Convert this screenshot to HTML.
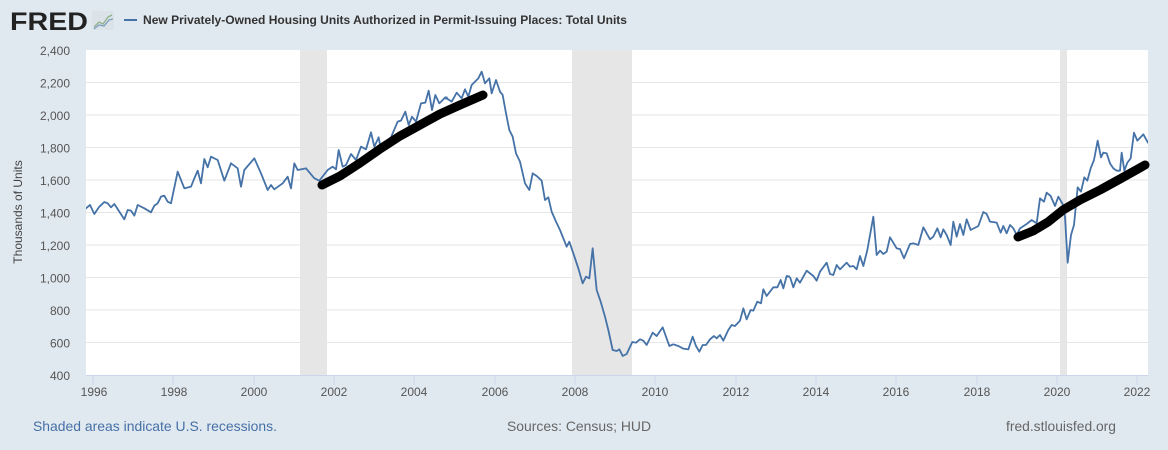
<!DOCTYPE html>
<html><head><meta charset="utf-8"><style>
html,body{margin:0;padding:0;background:#e1e9f0;}
svg{display:block;font-family:"Liberation Sans",Arial,sans-serif;}
</style></head><body>
<svg width="1168" height="450" viewBox="0 0 1168 450" xmlns="http://www.w3.org/2000/svg">
<rect width="1168" height="450" fill="#e1e9f0"/>
<!-- logo -->
<text x="10" y="30" font-size="25" font-weight="bold" fill="#222" textLength="78" lengthAdjust="spacingAndGlyphs">FRED</text>
<rect x="92" y="11" width="22" height="19" fill="#dbe3e8"/>
<polyline points="94,27 99,22 103,24 108,17 112,15" fill="none" stroke="#8fb08a" stroke-width="1.3"/>
<polyline points="94,29 99,25 104,26 109,20 113,19" fill="none" stroke="#7d9fbf" stroke-width="1.3"/>
<line x1="124" y1="20" x2="137" y2="20" stroke="#4572a7" stroke-width="2"/>
<text x="143" y="24" font-size="12" font-weight="bold" fill="#333" textLength="484" lengthAdjust="spacingAndGlyphs">New Privately-Owned Housing Units Authorized in Permit-Issuing Places: Total Units</text>
<!-- plot -->
<rect x="86" y="50" width="1062" height="325" fill="#fff"/>
<rect x="300" y="50" width="27" height="325" fill="#e6e6e6"/>
<rect x="572" y="50" width="60" height="325" fill="#e6e6e6"/>
<rect x="1060" y="50" width="7" height="325" fill="#e6e6e6"/>
<g stroke="#e6e6e6" stroke-width="1">
<line x1="86" y1="82.5" x2="1148" y2="82.5"/><line x1="86" y1="115" x2="1148" y2="115"/>
<line x1="86" y1="147.5" x2="1148" y2="147.5"/><line x1="86" y1="180" x2="1148" y2="180"/>
<line x1="86" y1="212.5" x2="1148" y2="212.5"/><line x1="86" y1="245" x2="1148" y2="245"/>
<line x1="86" y1="277.5" x2="1148" y2="277.5"/><line x1="86" y1="310" x2="1148" y2="310"/>
<line x1="86" y1="342.5" x2="1148" y2="342.5"/>
</g>
<line x1="86" y1="375.5" x2="1148" y2="375.5" stroke="#ccd6eb"/>
<g stroke="#ccd6eb">
<line x1="93" y1="375" x2="93" y2="385"/><line x1="173" y1="375" x2="173" y2="385"/><line x1="254" y1="375" x2="254" y2="385"/><line x1="334" y1="375" x2="334" y2="385"/><line x1="414" y1="375" x2="414" y2="385"/><line x1="495" y1="375" x2="495" y2="385"/><line x1="575" y1="375" x2="575" y2="385"/><line x1="655" y1="375" x2="655" y2="385"/><line x1="736" y1="375" x2="736" y2="385"/><line x1="816" y1="375" x2="816" y2="385"/><line x1="896" y1="375" x2="896" y2="385"/><line x1="977" y1="375" x2="977" y2="385"/><line x1="1057" y1="375" x2="1057" y2="385"/><line x1="1137" y1="375" x2="1137" y2="385"/>
</g>
<g font-size="12" fill="#555" text-anchor="end">
<text x="70" y="55">2,400</text><text x="70" y="87.5">2,200</text><text x="70" y="120">2,000</text><text x="70" y="152.5">1,800</text><text x="70" y="185">1,600</text><text x="70" y="217.5">1,400</text><text x="70" y="250">1,200</text><text x="70" y="282.5">1,000</text><text x="70" y="315">800</text><text x="70" y="347.5">600</text><text x="70" y="380">400</text>
</g>
<g font-size="12" fill="#555" text-anchor="middle">
<text x="94" y="396">1996</text><text x="174" y="396">1998</text><text x="254" y="396">2000</text><text x="334" y="396">2002</text><text x="414" y="396">2004</text><text x="495" y="396">2006</text><text x="575" y="396">2008</text><text x="655" y="396">2010</text><text x="736" y="396">2012</text><text x="816" y="396">2014</text><text x="896" y="396">2016</text><text x="977" y="396">2018</text><text x="1057" y="396">2020</text><text x="1137" y="396">2022</text>
</g>
<text transform="translate(22,212) rotate(-90)" font-size="12" fill="#444" text-anchor="middle">Thousands of Units</text>
<clipPath id="c"><rect x="86" y="48" width="1062" height="328"/></clipPath>
<g clip-path="url(#c)" fill="none" stroke="#4572a7" stroke-width="1.8" stroke-linejoin="round">
<g transform="translate(86,50) scale(0.33333)"><polyline vector-effect="non-scaling-stroke" points="-3,478 0,475 12,465 25,492 40,470 55,456 65,460 75,472 85,462 100,485 115,508 125,480 135,482 145,497 155,465 175,475 195,487 205,467 215,460 225,440 235,437 245,455 255,460 275,365 295,415 315,410 325,385 335,362 345,400 355,327 365,352 375,320 395,330 415,392 435,340 455,355 465,410 475,360 505,325 525,370 545,420 555,405 565,418 590,400 605,380 615,415 625,340 635,360 660,355 685,385 700,392 725,360 740,350 750,358 758,300 770,350 780,345 795,312 810,330 825,290 840,298 855,247 865,290 878,262 885,300 900,275 915,262 935,215 945,212 958,185 968,225 978,200 990,215 1005,160 1018,158 1028,122 1038,180 1048,135 1060,160 1078,142 1085,143"/></g>
<g transform="translate(430,50) scale(0.33333)"><polyline vector-effect="non-scaling-stroke" points="45,146 50,145 65,155 80,128 95,145 105,118 115,140 125,105 145,85 155,65 165,100 178,85 185,130 198,90 210,125 218,135 228,190 238,240 248,260 258,310 270,335 285,400 298,420 308,370 320,378 335,392 345,450 355,442 365,485 378,515 390,540 410,590 418,575 435,625 445,655 458,700 468,680 478,685 488,595 500,720 512,755 525,800 535,840 548,900 560,903 568,898 578,918 590,912 607,876 618,878 630,868 640,872 650,885 668,848 680,858 698,832 718,888 730,883 745,888 760,896 775,898 788,860 798,888 808,905 818,885 828,885 840,868 852,858 860,865 870,855 880,872 895,840 905,825 915,828 930,812 940,775 950,808 962,780 970,782 982,755 993,760 1000,718 1010,738 1030,712 1042,712 1052,690 1060,715 1070,678 1080,680"/></g>
<g transform="translate(780,100) scale(0.33333)"><polyline vector-effect="non-scaling-stroke" points="30,531 40,562 50,535 60,548 80,512 100,528 110,542 120,515 140,488 150,522 160,525 170,495 180,508 200,488 210,500 220,498 230,508 240,468 250,498 262,450 280,350 290,465 300,452 310,462 320,455 330,412 350,445 360,447 372,475 390,432 400,430 415,435 430,382 450,418 460,410 472,385 482,412 490,388 500,405 512,435 520,365 530,410 540,372 550,405 560,358 572,390 595,378 610,336 620,342 630,365 650,368 662,398 670,378 680,400 690,375 700,385 710,405 720,385 740,372 755,360 770,370 780,295 792,305 800,278 812,288 825,318 835,290 848,312 855,350 863,488 873,405 882,375 893,262 903,275 913,232 922,242 932,205 942,180 953,122 963,172 970,158 980,160 990,190 1000,205 1010,212 1020,212 1025,158 1033,212 1042,188 1052,175 1062,98 1072,122 1090,103 1105,130"/></g>
</g>
<!-- black hand-drawn trend lines -->
<g fill="none" stroke="#000" stroke-width="9" stroke-linecap="round" stroke-linejoin="round">
<polyline points="322,185 340,176 360,163 380,149 400,136 420,125 440,114 460,105 483,95"/>
<polyline points="1018,237 1033,231 1048,222 1063,210 1080,200 1100,190 1120,179 1145,165"/>
</g>
<!-- footer -->
<text x="33" y="431" font-size="14" fill="#4670a6" textLength="244" lengthAdjust="spacingAndGlyphs">Shaded areas indicate U.S. recessions.</text>
<text x="507" y="431" font-size="14" fill="#666" textLength="144" lengthAdjust="spacingAndGlyphs">Sources: Census; HUD</text>
<text x="1006" y="431" font-size="14" fill="#666" textLength="110" lengthAdjust="spacingAndGlyphs">fred.stlouisfed.org</text>
</svg>
</body></html>
